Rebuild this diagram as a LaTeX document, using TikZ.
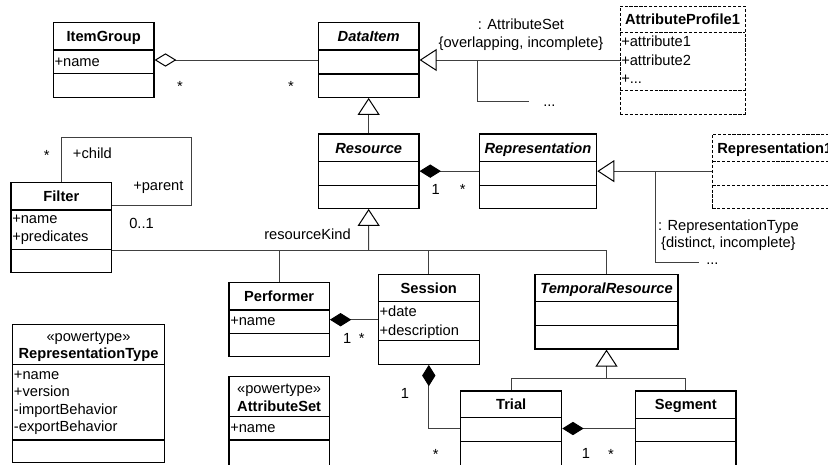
\documentclass[tikz,border=0pt]{standalone}
\usepackage{fontspec}
\setmainfont{Liberation Sans}
\usetikzlibrary{arrows.meta,fit}
\tikzset{
  every node/.style={font=\fontsize{11}{13}\selectfont, inner sep=0pt},
  boxline/.style={line width=0.9pt, draw=black},
  dashbox/.style={line width=0.7pt, dash pattern=on 2.4pt off 1.3pt},
  hdr/.style={anchor=base, font=\fontsize{11}{13}\selectfont\bfseries},
  ahdr/.style={anchor=base, font=\fontsize{11}{13}\selectfont\bfseries\itshape},
  attr/.style={anchor=base west},
  lbl/.style={anchor=base},
  conn/.style={line width=0.75pt, draw=black!75},
  genl/.style={conn, -{Triangle[open, length=12.75pt, width=16.5pt, color=black]}},
  aggr/.style={conn, {Diamond[open, length=16.3pt, width=10pt, color=black]}-},
  comp/.style={conn, {Diamond[length=16pt, width=10pt, color=black]}-}
}
\newcommand{\umlbox}[8]{%
  \node[fit={(#3,#4) (#5,#6)}, boxline, #2] (#1) {};
  \draw[boxline, #2] (#3,#7) -- (#5,#7);
  \draw[boxline, #2] (#3,#8) -- (#5,#8);
}
\begin{document}
\begin{tikzpicture}[x=0.75pt, y=-0.75pt]
\useasboundingbox (0,0) rectangle (828,464);
\fill[white] (0,0) rectangle (828,464);
\clip (0,0) rectangle (828,464);

% classes
\umlbox{IG}{}{53.3}{22.7}{154}{97.3}{50}{73.3}
\node[hdr] (IGh) at (103.7,41.6) {ItemGroup};
\node[attr] (IGa) at (54.3,66) {+name};

\umlbox{DI}{}{318.3}{22.7}{419}{97.3}{50}{74}
\node[ahdr] (DIh) at (368.7,41.6) {DataItem};

\umlbox{AP}{dashbox}{620}{6}{745}{114}{32.7}{90}
\node[hdr] (APh) at (682.5,24.6) {AttributeProfile1};
\node[attr] (APa1) at (621,46.7) {+attribute1};
\node[attr] (APa2) at (621,65) {+attribute2};
\node[attr] (APa3) at (621,83.3) {+...};

\umlbox{R}{}{318.3}{134}{419}{208.3}{161.7}{185.7}
\node[ahdr] (Rh) at (368.7,153.1) {Resource};

\umlbox{Rep}{}{479.3}{134}{596.7}{208.3}{161.7}{185.7}
\node[ahdr] (Reph) at (538,153.1) {Representation};

\umlbox{Rep1}{dashbox}{712.3}{134}{837.3}{208.3}{161.7}{185.7}
\node[hdr] (Rep1h) at (774.8,153.1) {Representation1};

\umlbox{Filter}{}{11}{182.3}{111.7}{272.7}{210}{249.3}
\node[hdr] (Fh) at (61.35,201.4) {Filter};
\node[attr] (Fa1) at (12,223) {+name};
\node[attr] (Fa2) at (12,241) {+predicates};

\umlbox{Perf}{}{229}{282.7}{329.3}{356.7}{310}{333.3}
\node[hdr] (Ph) at (279.15,301.6) {Performer};
\node[attr] (Pa) at (230,325.5) {+name};

\umlbox{S}{}{378.3}{274.3}{479.3}{364.3}{301.7}{340.7}
\node[hdr] (Sh) at (428.8,293.3) {Session};
\node[attr] (Sa1) at (379.3,316.7) {+date};
\node[attr] (Sa2) at (379.3,335) {+description};

\umlbox{TR}{}{535}{274.3}{678}{349}{301.7}{325.7}
\node[ahdr] (TRh) at (606.5,293.3) {TemporalResource};

\umlbox{RT}{}{12.7}{324.3}{164.3}{462.7}{364.3}{440}
\node[lbl] (RTs) at (88.5,341) {«powertype»};
\node[hdr] (RTh) at (88.5,358.6) {RepresentationType};
\node[attr] (RTa1) at (13.7,379) {+name};
\node[attr] (RTa2) at (13.7,396.5) {+version};
\node[attr] (RTa3) at (13.7,414) {-importBehavior};
\node[attr] (RTa4) at (13.7,431.5) {-exportBehavior};

\umlbox{AS}{}{229}{376.7}{329.3}{466}{416.7}{440}
\node[lbl] (ASs) at (279.15,393.4) {«powertype»};
\node[hdr] (ASh) at (279.15,411) {AttributeSet};
\node[attr] (ASa) at (230,432.7) {+name};

\umlbox{Trial}{}{460.7}{391}{561.7}{466}{417.7}{441.7}
\node[hdr] (Th) at (511.2,409.6) {Trial};

\umlbox{Seg}{}{635.7}{391}{736}{466}{418.3}{441.7}
\node[hdr] (Segh) at (685.85,409.9) {Segment};

% connectors
\draw[aggr] (IG.east) -- (IG.east -| DI.west);
\draw[genl] (AP.west) -- (AP.west -| DI.east);
\coordinate (db) at (477.7,60);
\coordinate (de) at (529.3,101.7);
\draw[conn] (db) |- (de);
\draw[genl] (R.north) -- (DI.south);
\draw[comp] (R.east) -- (R.east -| Rep.west);
\draw[genl] (Rep1.west) -- (Rep1.west -| Rep.east);
\coordinate (rb) at (655.7,171.2);
\coordinate (re) at (699.3,262.7);
\draw[conn] (rb) |- (re);
\coordinate (kind) at (368.7,250);
\draw[genl] (kind) -- (R.south);
\draw[conn] (kind -| Filter.east) -- (kind -| TR.north);
\draw[conn] (kind -| Perf.north) -- (Perf.north);
\draw[conn] (kind -| S.north) -- (S.north);
\draw[conn] (kind -| TR.north) -- (TR.north);
\coordinate (fl1) at (191,137.3);
\coordinate (fl2) at (191,205);
\draw[conn] (Filter.north) |- (fl1) -- (fl2) -- (fl2 -| Filter.east);
\draw[comp] (Perf.east) -- (Perf.east -| S.west);
\draw[comp] (S.south) |- (Trial.west);
\draw[comp] (Trial.east) -- (Trial.east -| Seg.west);
\coordinate (tj) at (606.5,378.3);
\draw[genl] (tj) -- (TR.south);
\draw[conn] (Trial.north) |- (tj) -| (Seg.north);

% labels
\node[lbl] (m1) at (180,91.6) {*};
\node[lbl] (m2) at (291,91.6) {*};
\node[lbl] (as1) at (521,29.5) {: AttributeSet};
\node[lbl] (as2) at (521,47) {\{overlapping, incomplete\}};
\node[anchor=base west] (dots1) at (543,106.5) {...};
\node[lbl] (m3) at (46.7,160) {*};
\node[anchor=base west] (child) at (72.7,158.4) {+child};
\node[anchor=base west] (parent) at (133,190) {+parent};
\node[anchor=base west] (m4) at (129,228) {0..1};
\node[anchor=base east] (rk) at (351,239) {resourceKind};
\node[lbl] (m5) at (435.7,194) {1};
\node[lbl] (m6) at (462.7,194) {*};
\node[lbl] (rt1) at (728.4,230) {: RepresentationType};
\node[lbl] (rt2) at (728.4,247.5) {\{distinct, incomplete\}};
\node[anchor=base west] (dots2) at (706,264) {...};
\node[lbl] (m7) at (347.3,343) {1};
\node[lbl] (m8) at (361.7,343.6) {*};
\node[lbl] (m9) at (405,398) {1};
\node[lbl] (m10) at (435.7,459.6) {*};
\node[lbl] (m11) at (586,458.7) {1};
\node[lbl] (m12) at (611,459.6) {*};
\end{tikzpicture}
\end{document}
